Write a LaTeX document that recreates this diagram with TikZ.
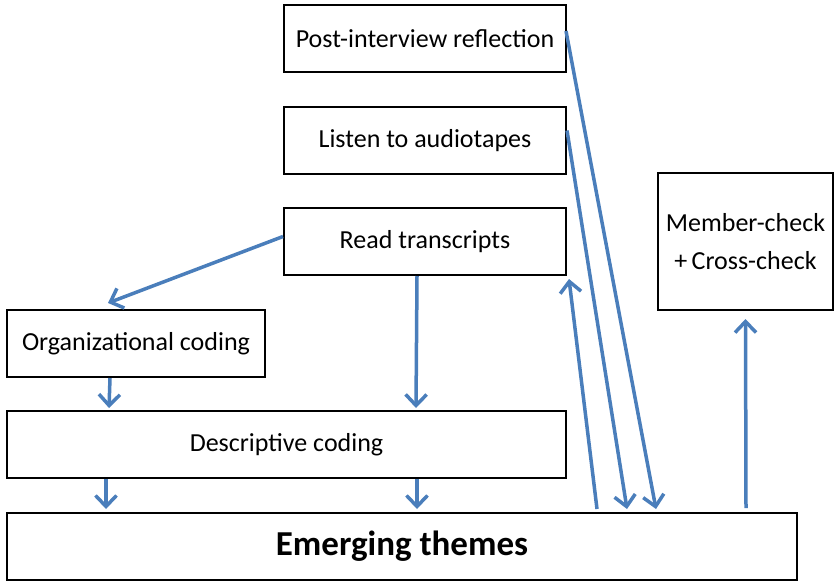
\documentclass[tikz,border=0pt]{standalone}
\usepackage{fontspec}
\setmainfont{Carlito}
\usetikzlibrary{arrows.meta,calc}
\definecolor{arrblue}{HTML}{4A7EBB}
\begin{document}
\begin{tikzpicture}[x=1pt,y=-1pt,
  box/.style={draw=black,line width=2pt,fill=white,minimum height=67pt,inner sep=0pt,font=\fontsize{26}{30}\selectfont,align=center},
  conn/.style={draw=arrblue,line width=3.5pt,-{Straight Barb[length=11pt,width=21pt]}}]
\useasboundingbox (0,0) rectangle (835,582);
\node[box,minimum width=282pt] (post) at (425,38.5) {Post-interview reflection};
\node[box,minimum width=282pt] (listen) at (425,140.5) {Listen to audiotapes};
\node[box,minimum width=282pt] (read) at (425,241.5) {Read transcripts};
\node[box,minimum width=175pt,minimum height=137pt,font=\fontsize{26}{38}\selectfont] (member) at (745.5,241.5) {Member-check\\+\,Cross-check};
\node[box,minimum width=258pt] (org) at (136,343.5) {Organizational coding};
\node[box,minimum width=559pt] (desc) at (286.5,444.5) {Descriptive coding};
\node[box,minimum width=790pt,font=\fontsize{35}{40}\selectfont\bfseries] (emerg) at (402,546.5) {Emerging themes};
% connectors
\draw[conn] ($(post.east)+(-1,-7.5)$) -- ($(emerg.north west)+(650,-3)$);
\draw[conn] ($(listen.east)+(0,-10)$) -- ($(emerg.north west)+(621,-3)$);
\draw[conn] ($(emerg.north west)+(591,-3)$) -- ($(read.south east)+(2,3)$);
\draw[conn] ($(read.west)+(0,-5)$) -- ($(org.north)+(-28,-6)$);
\draw[conn] ($(read.south)+(-8,0)$) -- ($(desc.north west)+(410,-2)$);
\draw[conn] ($(org.south)+(-26,0)$) -- ($(desc.north west)+(103,-2)$);
\draw[conn] ($(desc.south west)+(100,0)$) -- ($(emerg.north west)+(100,-3)$);
\draw[conn] ($(desc.south west)+(411,0)$) -- ($(emerg.north west)+(411,-3)$);
\draw[conn] ($(emerg.north west)+(740,-4)$) -- ($(member.south)+(0,8)$);
\end{tikzpicture}
\end{document}
